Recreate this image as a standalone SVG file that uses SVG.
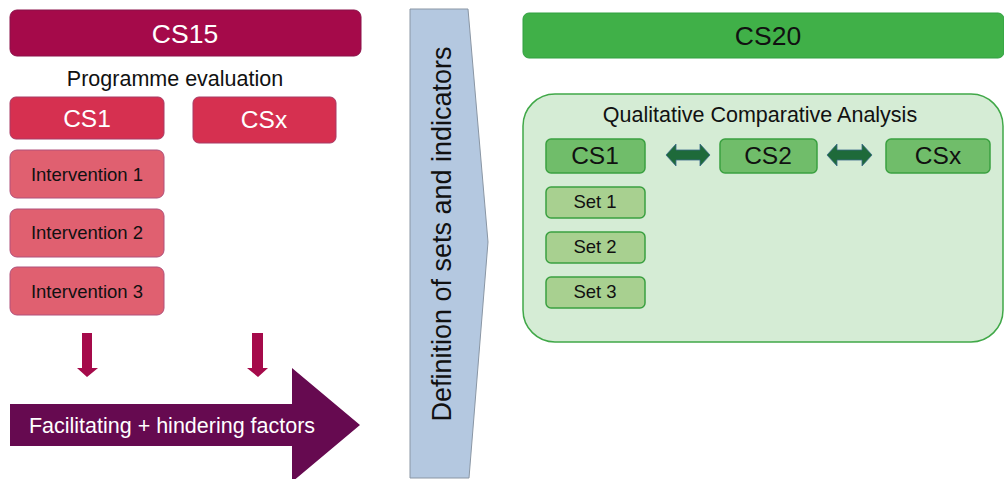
<svg xmlns="http://www.w3.org/2000/svg" width="1004" height="479" viewBox="0 0 1004 479">
  <style>
    text { font-family: "Liberation Sans", Arial, sans-serif; text-anchor: middle; }
    .cs15 { fill: #a50a4a; stroke: #8a1048; stroke-width: 1; }
    .cs { fill: #d63050; stroke: #a83a64; stroke-width: 1; }
    .iv { fill: #e06070; stroke: #b0507a; stroke-width: 1; }
    .wt { fill: #ffffff; }
    .bk { fill: #111111; }
    .gcs { fill: #70bd6a; stroke: #3aa040; stroke-width: 1.5; }
    .gset { fill: #a8d090; stroke: #3aa040; stroke-width: 1.5; }
    .down { fill: #a50a4a; }
    .dbl { fill: #1e6a3a; stroke: #3a6a8a; stroke-width: 0.8; }
  </style>

  <!-- left column: CS15 programme evaluation -->
  <g id="cs15">
    <rect class="cs15" x="10" y="10" width="351" height="46" rx="7"/>
    <text class="wt" x="185" y="43" font-size="26.5">CS15</text>
  </g>
  <g id="programme-evaluation">
    <text class="bk" x="175" y="86" font-size="21.5">Programme evaluation</text>
  </g>
  <g id="cs1-left">
    <rect class="cs" x="10" y="97" width="154" height="42" rx="6"/>
    <text class="wt" x="87" y="127" font-size="24.5">CS1</text>
  </g>
  <g id="csx-left">
    <rect class="cs" x="193" y="97" width="143" height="46" rx="6"/>
    <text class="wt" x="264" y="128" font-size="24.5">CSx</text>
  </g>
  <g id="intervention-1">
    <rect class="iv" x="10" y="150" width="154" height="48" rx="7"/>
    <text class="bk" x="87" y="181" font-size="18.5">Intervention 1</text>
  </g>
  <g id="intervention-2">
    <rect class="iv" x="10" y="209" width="154" height="48" rx="7"/>
    <text class="bk" x="87" y="239" font-size="18.5">Intervention 2</text>
  </g>
  <g id="intervention-3">
    <rect class="iv" x="10" y="267" width="154" height="48" rx="7"/>
    <text class="bk" x="87" y="298" font-size="18.5">Intervention 3</text>
  </g>

  <!-- big factors arrow -->
  <g id="factors">
    <polygon fill="#660a50" points="10,404 292,404 292,368 360,425 292,482 292,446 10,446"/>
    <text class="wt" x="172" y="433" font-size="21.5">Facilitating + hindering factors</text>
  </g>

  <!-- pentagon: definition of sets and indicators -->
  <g id="definition">
    <polygon fill="#b4c8e0" stroke="#8a96a4" stroke-width="1" points="410,9 468,9 488,242 469,478 410,478"/>
    <text class="bk" x="0" y="0" font-size="27" transform="translate(451,234) rotate(-90)">Definition of sets and indicators</text>
  </g>

  <!-- right column: CS20 -->
  <g id="cs20">
    <rect fill="#40b048" stroke="#30a040" stroke-width="1" x="523" y="13" width="481" height="45" rx="6"/>
    <text class="bk" x="768" y="45" font-size="26.5">CS20</text>
  </g>
  <g id="qca">
    <rect fill="#d5ecd5" stroke="#40a848" stroke-width="1.5" x="523" y="94" width="480" height="248" rx="32"/>
    <text class="bk" x="760" y="122" font-size="21.5">Qualitative Comparative Analysis</text>
  </g>
  <g id="cs1-right">
    <rect class="gcs" x="546" y="139" width="99" height="34" rx="5"/>
    <text class="bk" x="595" y="164" font-size="24.5">CS1</text>
  </g>
  <g id="cs2-right">
    <rect class="gcs" x="720" y="139" width="97" height="34" rx="5"/>
    <text class="bk" x="768" y="164" font-size="24.5">CS2</text>
  </g>
  <g id="csx-right">
    <rect class="gcs" x="886" y="139" width="104" height="34" rx="5"/>
    <text class="bk" x="938" y="164" font-size="24.5">CSx</text>
  </g>
  <g id="set-1">
    <rect class="gset" x="546" y="187" width="99" height="31" rx="5"/>
    <text class="bk" x="595" y="208" font-size="18.5">Set 1</text>
  </g>
  <g id="set-2">
    <rect class="gset" x="546" y="232" width="99" height="31" rx="5"/>
    <text class="bk" x="595" y="253" font-size="18.5">Set 2</text>
  </g>
  <g id="set-3">
    <rect class="gset" x="546" y="277" width="99" height="31" rx="5"/>
    <text class="bk" x="595" y="298" font-size="18.5">Set 3</text>
  </g>

  <!-- connectors -->
  <g id="connectors">
    <polygon class="down" points="82,333 92,333 92,368 98,368 87,377 77,368 82,368"/>
    <polygon class="down" points="252,333 263,333 263,368 268,368 258,377 247,368 252,368"/>
    <polygon class="dbl" points="666,155 676,144 676,150 700,150 700,144 710,155 700,166 700,160 676,160 676,166"/>
    <polygon class="dbl" points="827,155 837,144 837,150 862,150 862,144 872,155 862,166 862,160 837,160 837,166"/>
  </g>
</svg>
